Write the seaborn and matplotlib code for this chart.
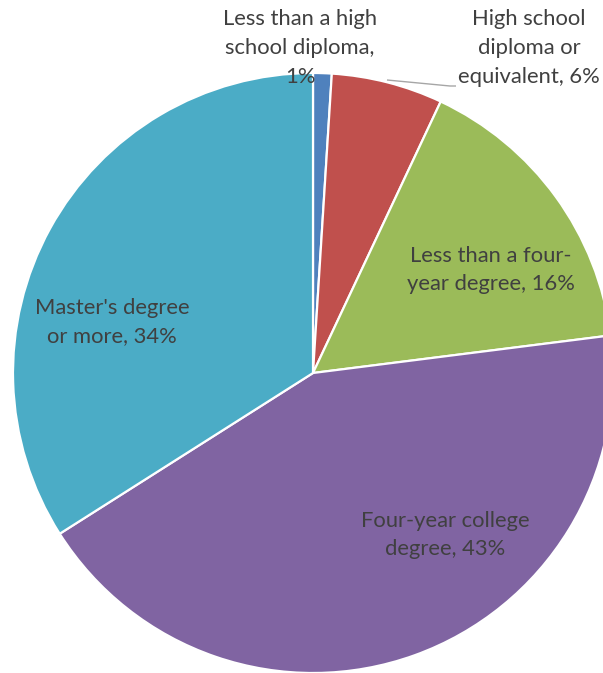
import matplotlib
matplotlib.use("Agg")
import matplotlib.pyplot as plt
import seaborn as sns

# Educational attainment shares (percent)
categories = [
    "Less than a high\nschool diploma,",
    "High school\ndiploma or\nequivalent,",
    "Less than a four-\nyear degree,",
    "Four-year college\ndegree,",
    "Master's degree\nor more,",
]
shares = [1, 6, 16, 43, 34]
colors = ["#4F81BD", "#C0504D", "#9BBB59", "#8064A2", "#4BACC6"]

sns.set_theme(style="white")
plt.rcParams["font.family"] = ["Lato", "DejaVu Sans"]

fig = plt.figure(figsize=(6.03, 6.73), dpi=100)
ax = fig.add_axes([0, 0, 1, 1])
ax.axis("off")

wedges, _ = ax.pie(
    shares,
    colors=colors,
    startangle=90,
    counterclock=False,
    radius=1.0,
    wedgeprops=dict(edgecolor="white", linewidth=1.6),
)
ax.set_xlim(-313 / 300, 290 / 300)
ax.set_ylim(-300 / 300, 373 / 300)
ax.set_aspect("equal")


def px(x, y):
    return (x - 313) / 300, (373 - y) / 300


label_pos = [px(300, 48), px(529, 48), px(491, 270), px(445, 535), px(112, 322)]
text_kw = dict(ha="center", va="center", color="#404040", fontsize=15.8, linespacing=1.55)
for cat, val, (x, y) in zip(categories, shares, label_pos):
    if val == 1:
        txt = f"{cat}\n{val}%"
    else:
        txt = f"{cat} {val}%"
    ax.text(x, y, txt, **text_kw)

# Leader line from the 6% slice to its label
lx = [px(387, 80)[0], px(450, 86)[0], px(456, 86)[0]]
ly = [px(387, 80)[1], px(450, 86)[1], px(456, 86)[1]]
ax.plot(lx, ly, color="#A6A6A6", linewidth=1.0, solid_capstyle="butt")

fig.savefig("out.png", dpi=100)
